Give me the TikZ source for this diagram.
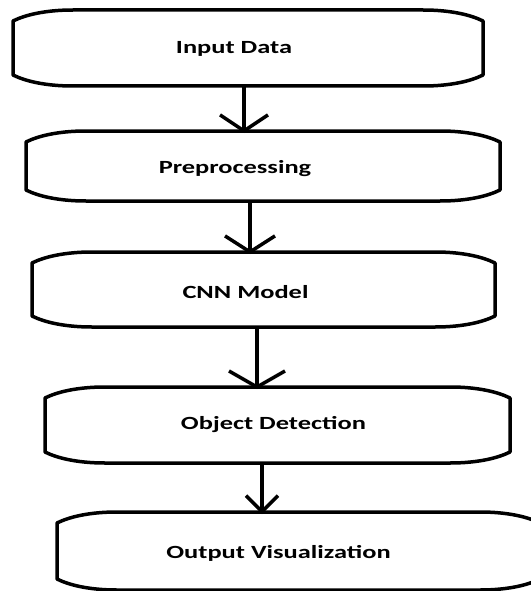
\documentclass[tikz,border=0pt]{standalone}
\usepackage{fontspec}
\usepackage{graphicx}
\setsansfont{Carlito}
\usetikzlibrary{arrows.meta}

\newcommand{\steptext}[1]{\scalebox{1.42}[1]{\fontsize{18.6}{22}\sffamily\bfseries #1}}

\begin{document}
\begin{tikzpicture}[x=1pt, y=-1pt,
    stage/.style={draw=none, outer sep=0pt, inner sep=0pt,
        minimum width=#1, minimum height=76pt},
    stage/.default=470pt,
    edge/.style={line width=3.5pt, line join=round},
    flow/.style={line width=3.5pt, -{Straight Barb[length=16pt, width=#1]}},
    flow/.default=50pt]
    \useasboundingbox (0,0) rectangle (530,591);
        % the five steps
        \node[stage=470pt, label={[xshift=-14pt, yshift=-1pt]center:\steptext{Input Data}}]
        (inp) at (248,48) {};
        \node[stage=474pt, minimum height=70pt,
        label={[xshift=-28pt, yshift=-3pt]center:\steptext{Preprocessing}}]
        (pre) at (263,166) {};
        \node[stage=463pt, minimum height=75pt,
        label={[xshift=-18pt, yshift=-3pt]center:\steptext{CNN Model}}]
        (cnn) at (263.5,289.5) {};
        \node[stage=465pt, label={[xshift=-4pt]center:\steptext{Object Detection}}]
        (det) at (277.5,425) {};
        \node[stage=483pt, minimum height=78pt,
        label={[xshift=-20pt, yshift=-2pt]center:\steptext{Output Visualization}}]
        (out) at (298.5,551) {};
        % outlines with long flat corners
        \foreach \n in {inp,pre,cnn,det,out}
        \draw[edge] ([yshift=-11pt]\n.north west)
        .. controls ([xshift=12pt, yshift=-5pt]\n.north west) and ([xshift=32pt]\n.north west)
        .. ([xshift=60pt]\n.north west)
        -- ([xshift=-60pt]\n.north east)
        .. controls ([xshift=-32pt]\n.north east) and ([xshift=-12pt, yshift=-5pt]\n.north east)
        .. ([yshift=-11pt]\n.north east)
        -- ([yshift=11pt]\n.south east)
        .. controls ([xshift=-12pt, yshift=5pt]\n.south east) and ([xshift=-32pt]\n.south east)
        .. ([xshift=-60pt]\n.south east)
        -- ([xshift=60pt]\n.south west)
        .. controls ([xshift=32pt]\n.south west) and ([xshift=12pt, yshift=5pt]\n.south west)
        .. ([yshift=11pt]\n.south west)
        -- cycle;
        % arrows
        \draw[flow=48pt] ([xshift=-4pt]inp.south) -- ([xshift=-4pt, yshift=-2pt]inp.south |- pre.north);
        \draw[flow=50pt] ([xshift=-13pt]pre.south) -- ([xshift=-13pt, yshift=-2pt]pre.south |- cnn.north);
        \draw[flow=56pt] ([xshift=-6.5pt]cnn.south) -- ([xshift=-6.5pt, yshift=-2pt]cnn.south |- det.north);
        \draw[flow=32pt] ([xshift=-15.5pt]det.south) -- ([xshift=-15.5pt, yshift=-2pt]det.south |- out.north);
    \end{tikzpicture}
\end{document}
